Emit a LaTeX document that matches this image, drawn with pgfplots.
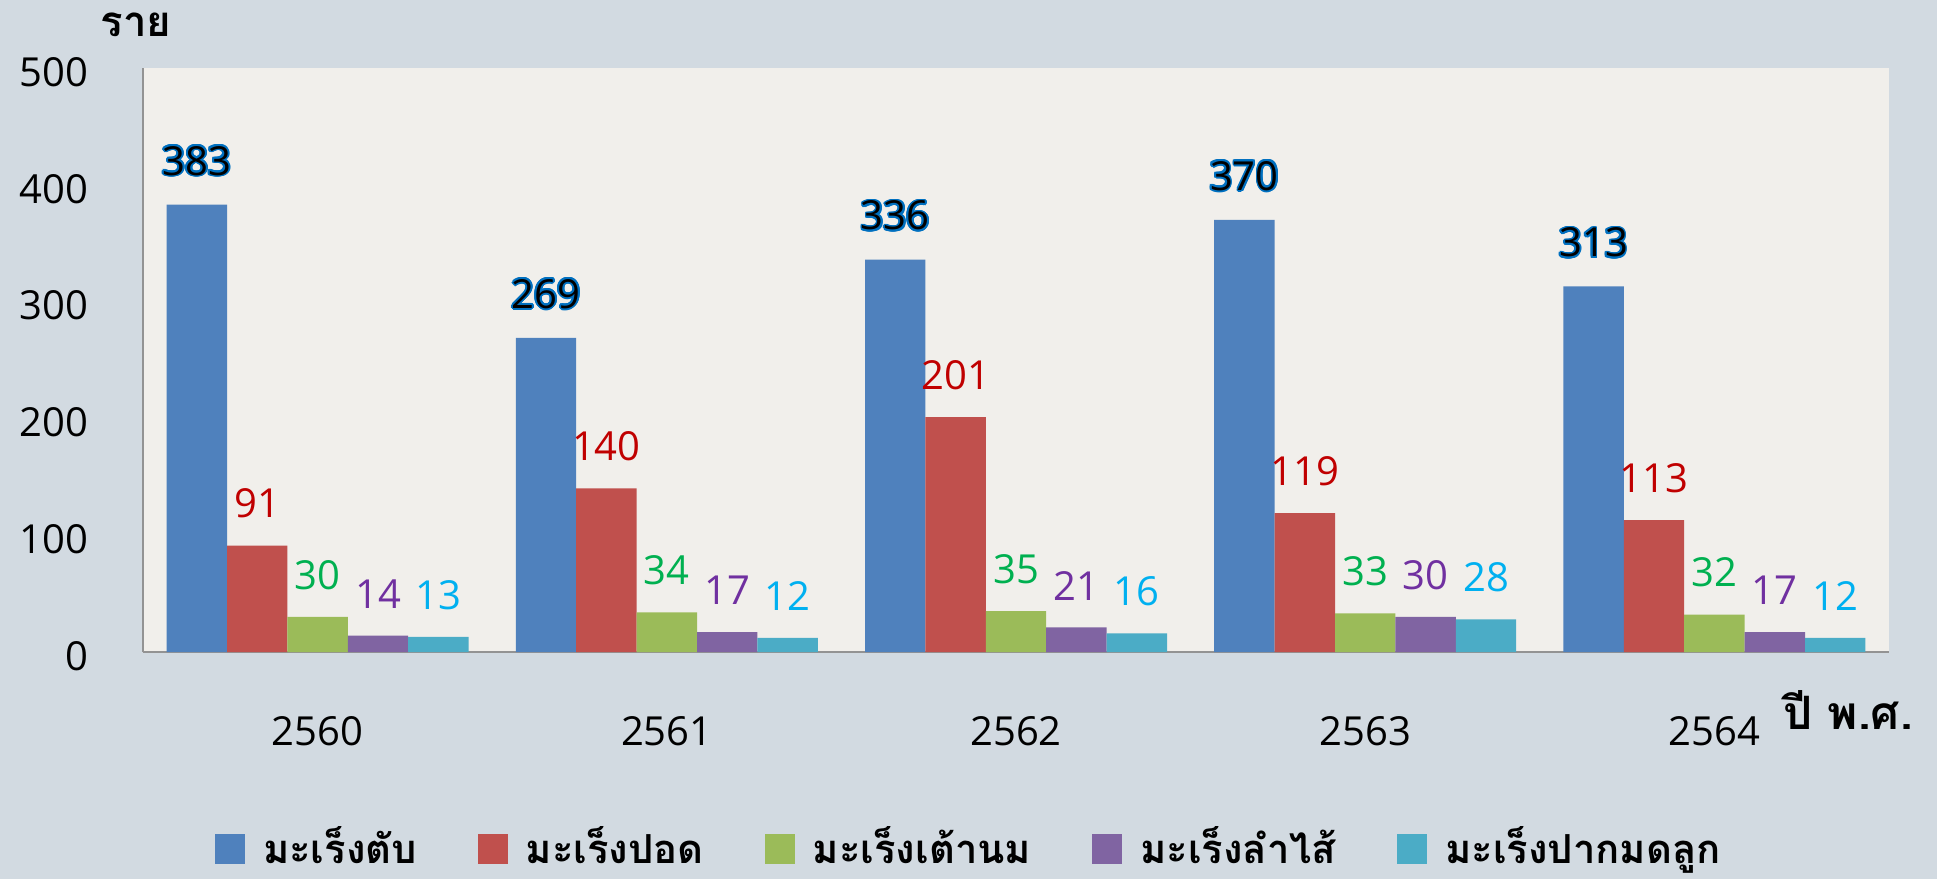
\documentclass[border=0pt]{standalone}
\usepackage{fontspec}
\setmainfont{Open Sans}
\newfontfamily\thaifont[Script=Thai]{Loma}
\usepackage{pgfplots}
\pgfplotsset{compat=1.18}
\usepackage{contour}
\contourlength{0.9pt}
\definecolor{bgout}{HTML}{D2DAE1}
\definecolor{plotbg}{HTML}{F1EFEB}
\definecolor{cblue}{HTML}{4F81BD}
\definecolor{cred}{HTML}{C0504D}
\definecolor{cgreen}{HTML}{9BBB59}
\definecolor{cpurple}{HTML}{8064A2}
\definecolor{caqua}{HTML}{4BACC6}
\definecolor{lblue}{HTML}{0070C0}
\definecolor{lred}{HTML}{C00000}
\definecolor{lgreen}{HTML}{00B050}
\definecolor{lpurple}{HTML}{7030A0}
\definecolor{laqua}{HTML}{00B0F0}
\begin{document}
\begin{tikzpicture}
\fill[bgout] (0,0) rectangle (968.5pt,439.5pt);
\begin{axis}[
  at={(71.5pt,113.5pt)}, anchor=south west,
  scale only axis, width=873pt, height=292pt,
  ymin=0, ymax=500, ytick={0,100,...,500},
  xmin=-0.5, xmax=4.5, xtick={0,1,2,3,4},
  xticklabels={2560,2561,2562,2563,2564},
  ybar=0pt, bar width=30.2pt,
  axis x line*=bottom, axis y line*=left,
  axis line style={-, draw=gray!85, line width=0.8pt},
  major tick length=0pt,
  axis background/.style={fill=plotbg},
  clip=false,
  /pgf/number format/assume math mode=true,
  tick label style={font=\fontsize{20}{24}\selectfont, text=black},
  x tick label style={anchor=north, inner sep=0pt, yshift=-32pt},
  y tick label style={anchor=east, inner sep=0pt, xshift=-27pt, yshift=-2pt},
  xlabel={\thaifont\bfseries ปี พ.ศ.},
  ylabel={\thaifont\bfseries ราย},
  every axis x label/.style={at={(rel axis cs:1,0)}, anchor=center, xshift=-20.5pt, yshift=-29pt, font=\fontsize{23}{27}\selectfont},
  every axis y label/.style={at={(rel axis cs:0,1)}, anchor=center, xshift=-3.5pt, yshift=21.5pt, font=\fontsize{21}{25}\selectfont},
  nodes near coords,
  every node near coord/.append style={font=\fontsize{20}{24}\selectfont, inner sep=0pt, yshift=13.5pt},
  legend columns=5,
  legend style={at={(rel axis cs:0.5,0)}, anchor=center, yshift=-97pt, xshift=-23pt,
    draw=none, fill=none, font=\thaifont\bfseries\fontsize{20}{24}\selectfont,
    /tikz/every even column/.append style={column sep=28.5pt}},
  legend image code/.code={\fill[#1] (0pt,-9pt) rectangle (15pt,6pt); \path (22pt,0pt);},
]
\addplot[fill=cblue, draw=none,
  nodes near coords={\contour{lblue}{\pgfmathprintnumber{\pgfplotspointmeta}}},
  every node near coord/.append style={text=black}]
  coordinates {(0,383) (1,269) (2,336) (3,370) (4,313)};
\addplot[fill=cred, draw=none, every node near coord/.append style={text=lred}]
  coordinates {(0,91) (1,140) (2,201) (3,119) (4,113)};
\addplot[fill=cgreen, draw=none, every node near coord/.append style={text=lgreen}]
  coordinates {(0,30) (1,34) (2,35) (3,33) (4,32)};
\addplot[fill=cpurple, draw=none, every node near coord/.append style={text=lpurple}]
  coordinates {(0,14) (1,17) (2,21) (3,30) (4,17)};
\addplot[fill=caqua, draw=none, every node near coord/.append style={text=laqua}]
  coordinates {(0,13) (1,12) (2,16) (3,28) (4,12)};
\legend{มะเร็งตับ, มะเร็งปอด, มะเร็งเต้านม, มะเร็งลำไส้, มะเร็งปากมดลูก}
\end{axis}
\pgfresetboundingbox
\useasboundingbox (0,0) rectangle (968.5pt,439.5pt);
\end{tikzpicture}
\end{document}
